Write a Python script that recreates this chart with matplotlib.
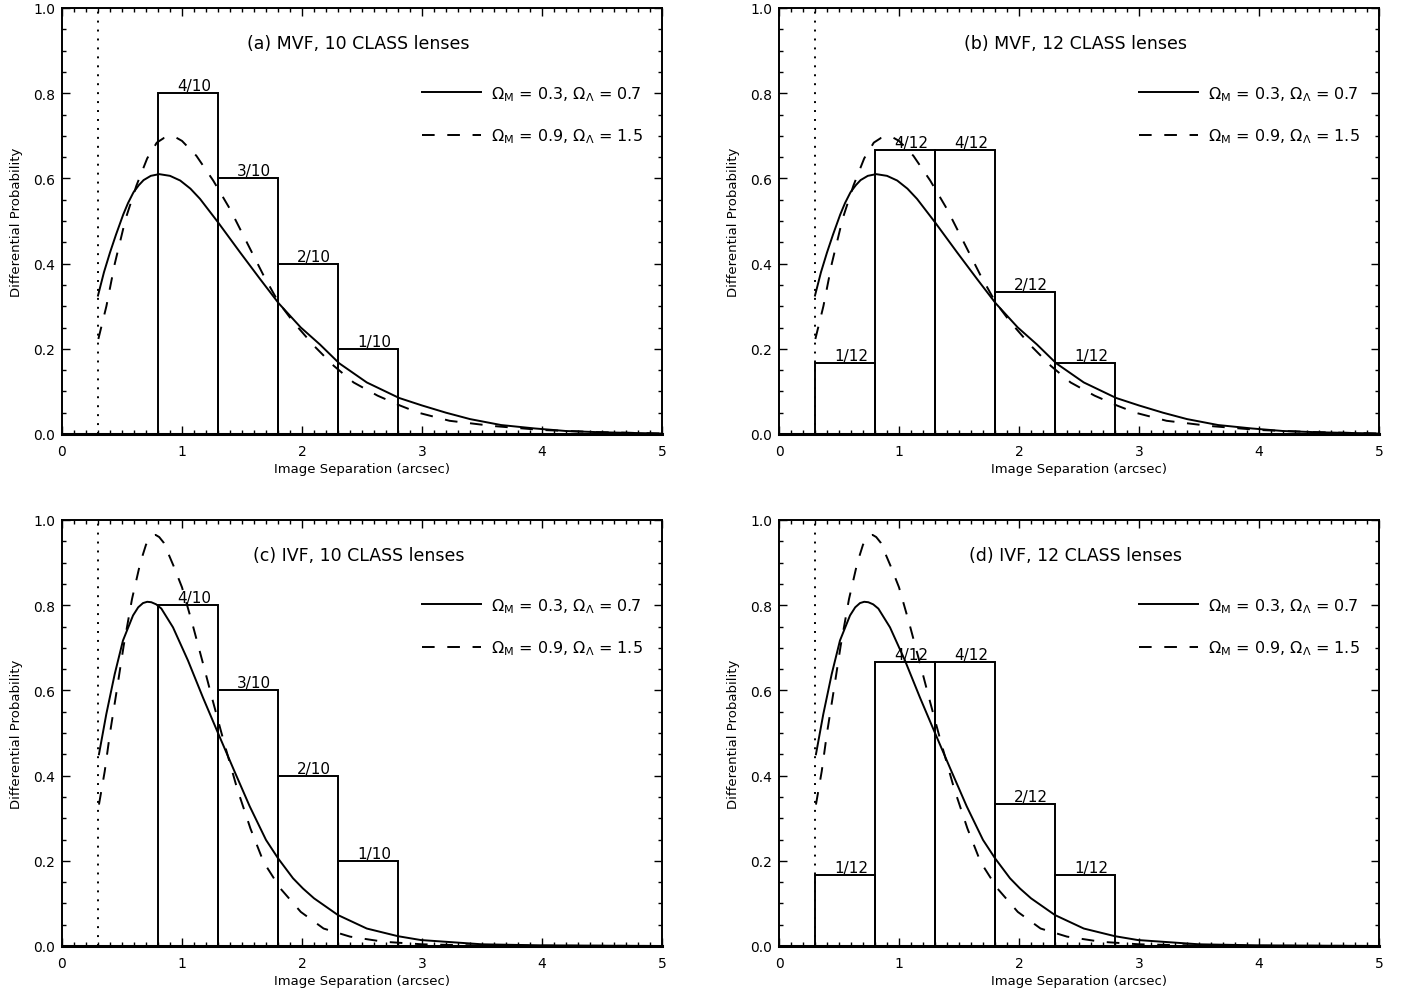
import numpy as np
import matplotlib
matplotlib.use("Agg")
import matplotlib.pyplot as plt
from matplotlib.ticker import MultipleLocator, FormatStrFormatter

# histogram bins (arcsec) and observed lens counts
edges10 = [0.8, 1.3, 1.8, 2.3, 2.8]
counts10 = [4, 3, 2, 1]
edges12 = [0.3, 0.8, 1.3, 1.8, 2.3, 2.8]
counts12 = [1, 4, 4, 2, 1]

# predicted distributions
mvf_solid_x = [0.30, 0.35, 0.40, 0.45, 0.51, 0.55, 0.595, 0.64, 0.68, 0.74, 0.81, 0.90, 0.985, 1.07,
               1.15, 1.30, 1.485, 1.65, 1.805, 1.99, 2.15, 2.31, 2.54, 2.81, 3.0, 3.2, 3.4, 3.66,
               3.94, 4.2, 4.5, 5.0]
mvf_solid_y = [0.325, 0.38, 0.426, 0.468, 0.515, 0.542, 0.567, 0.584, 0.596, 0.606, 0.61, 0.606, 0.595,
               0.576, 0.552, 0.497, 0.426, 0.364, 0.307, 0.25, 0.21, 0.166, 0.121, 0.0845, 0.067, 0.05,
               0.035, 0.021, 0.013, 0.007, 0.004, 0.001]
mvf_dash_x = [0.303, 0.37, 0.44, 0.53, 0.62, 0.71, 0.79, 0.85, 0.90, 0.95, 1.00, 1.12, 1.26, 1.40,
              1.54, 1.68, 1.805, 1.93, 2.10, 2.265, 2.43, 2.63, 2.82, 2.97, 3.23, 3.59, 4.00, 4.43, 5.0]
mvf_dash_y = [0.223, 0.30, 0.40, 0.505, 0.583, 0.647, 0.684, 0.695, 0.699, 0.696, 0.688, 0.653, 0.595,
              0.528, 0.45, 0.372, 0.309, 0.262, 0.207, 0.16, 0.121, 0.09, 0.0665, 0.05, 0.031,
              0.0188, 0.0094, 0.0047, 0.001]
ivf_solid_x = [0.308, 0.369, 0.439, 0.508, 0.592, 0.635, 0.675, 0.71, 0.744, 0.785, 0.828, 0.925,
               1.05, 1.175, 1.30, 1.425, 1.564, 1.70, 1.80, 1.925, 2.008, 2.10, 2.30, 2.54, 2.80,
               2.99, 3.5, 4.0, 5.0]
ivf_solid_y = [0.45, 0.544, 0.638, 0.717, 0.776, 0.795, 0.805, 0.808, 0.807, 0.802, 0.792, 0.748,
               0.67, 0.583, 0.50, 0.418, 0.328, 0.249, 0.206, 0.159, 0.135, 0.112, 0.0726, 0.041,
               0.023, 0.014, 0.004, 0.0015, 0.0]
ivf_dash_x = [0.308, 0.356, 0.40, 0.458, 0.514, 0.583, 0.653, 0.70, 0.736, 0.76, 0.78, 0.81, 0.847,
              0.93, 1.0, 1.083, 1.18, 1.26, 1.35, 1.46, 1.57, 1.68, 1.82, 1.99, 2.18, 2.40, 2.68,
              3.0, 3.5, 5.0]
ivf_dash_y = [0.332, 0.41, 0.50, 0.603, 0.705, 0.814, 0.90, 0.942, 0.959, 0.964, 0.965, 0.96, 0.947,
              0.892, 0.842, 0.76, 0.658, 0.572, 0.478, 0.369, 0.276, 0.197, 0.135, 0.080, 0.041,
              0.022, 0.010, 0.004, 0.001, 0.0]

cutoff = 0.3
titles = ["(a) MVF, 10 CLASS lenses", "(b) MVF, 12 CLASS lenses",
          "(c) IVF, 10 CLASS lenses", "(d) IVF, 12 CLASS lenses"]
legend_labels = [r"$\Omega_{\rm M}$ = 0.3, $\Omega_{\Lambda}$ = 0.7",
                 r"$\Omega_{\rm M}$ = 0.9, $\Omega_{\Lambda}$ = 1.5"]

plt.rcParams['font.family'] = 'DejaVu Sans'
plt.rcParams['mathtext.fontset'] = 'dejavusans'

fig = plt.figure(figsize=(14.03, 9.95), dpi=100)
W, H = 1403.0, 995.0
boxes = [(62, 435), (779, 435), (62, 947), (779, 947)]

panels = [
    (edges10, counts10, mvf_solid_x, mvf_solid_y, mvf_dash_x, mvf_dash_y),
    (edges12, counts12, mvf_solid_x, mvf_solid_y, mvf_dash_x, mvf_dash_y),
    (edges10, counts10, ivf_solid_x, ivf_solid_y, ivf_dash_x, ivf_dash_y),
    (edges12, counts12, ivf_solid_x, ivf_solid_y, ivf_dash_x, ivf_dash_y),
]

for i, (edges, counts, sx, sy, dx, dy) in enumerate(panels):
    left, bottom = boxes[i]
    ax = fig.add_axes([left / W, 1 - bottom / H, 600 / W, 426 / H])
    n = sum(counts)
    edges = np.array(edges)
    widths = np.diff(edges)
    heights = np.array(counts) / n / widths
    ax.bar(edges[:-1], heights, width=widths, align='edge', fill=False,
           edgecolor='black', linewidth=1.4)
    for e, w, h, c in zip(edges[:-1], widths, heights, counts):
        ax.text(e + w / 2 + 0.05, h + 0.007, f"{c}/{n}", ha='center', va='baseline', fontsize=11)

    l1, = ax.plot(sx, sy, color='black', lw=1.4, label=legend_labels[0])
    l2, = ax.plot(dx, dy, color='black', lw=1.4, linestyle=(0, (6.5, 6.5)), label=legend_labels[1])
    ax.axvline(cutoff, color='black', lw=1.4, linestyle=(0, (1, 3.6)))

    ax.text(0.494, 0.918, titles[i], transform=ax.transAxes, ha='center', va='center', fontsize=12.5)
    ax.legend(handles=[l1, l2], loc='upper left', bbox_to_anchor=(0.6, 0.822), frameon=False,
              handlelength=3.7, handletextpad=0.6, borderpad=0, borderaxespad=0,
              labelspacing=1.5, fontsize=11.5)

    ax.set_xlim(0, 5)
    ax.set_ylim(0, 1)
    ax.xaxis.set_major_locator(MultipleLocator(1))
    ax.xaxis.set_minor_locator(MultipleLocator(0.1))
    ax.yaxis.set_major_locator(MultipleLocator(0.2))
    ax.yaxis.set_minor_locator(MultipleLocator(0.05))
    ax.yaxis.set_major_formatter(FormatStrFormatter('%.1f'))
    ax.tick_params(which='both', direction='in', top=True, right=True, width=1.0, labelsize=10)
    ax.tick_params(which='major', length=5.5)
    ax.tick_params(which='minor', length=3)
    ax.tick_params(axis='x', pad=7)
    ax.tick_params(axis='y', pad=5)
    for s in ax.spines.values():
        s.set_linewidth(1.4)
    ax.spines['bottom'].set_linewidth(2.2)
    ax.set_xlabel("Image Separation (arcsec)", fontsize=9.5, labelpad=3)
    ax.set_ylabel("Differential Probability", fontsize=9.5, labelpad=7)

fig.savefig("out.png", dpi=100)
